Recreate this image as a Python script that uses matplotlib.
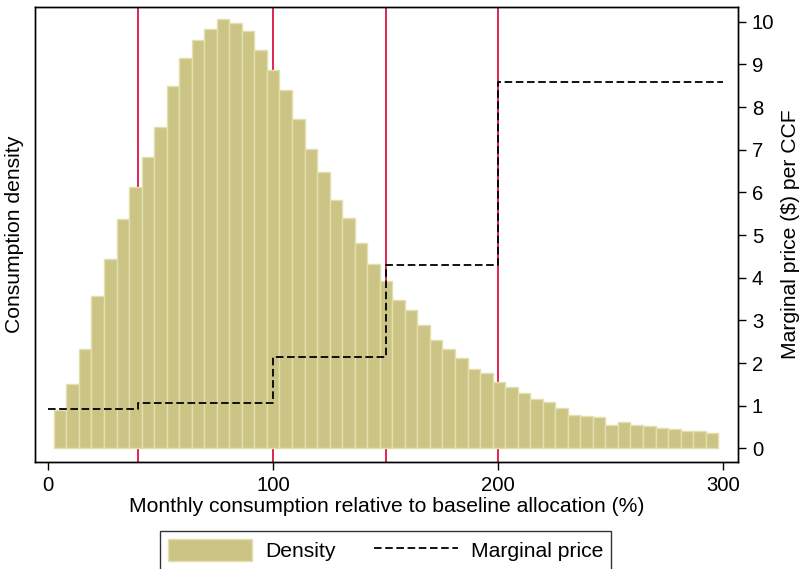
import matplotlib
matplotlib.use('Agg')
import matplotlib.pyplot as plt
import numpy as np

plt.rcParams['font.family'] = ['Liberation Sans', 'DejaVu Sans']
plt.rcParams['font.size'] = 15.2

# histogram of monthly consumption (% of baseline allocation)
bin_start = 2.5
bin_width = 5.57
density = [0.91, 1.52, 2.34, 3.57, 4.43, 5.37, 6.13, 6.84, 7.54, 8.49,
           9.14, 9.57, 9.82, 10.06, 9.96, 9.79, 9.34, 8.87, 8.40, 7.73,
           7.01, 6.48, 5.82, 5.39, 4.81, 4.32, 3.92, 3.48, 3.24, 2.89,
           2.55, 2.34, 2.11, 1.86, 1.76, 1.55, 1.44, 1.29, 1.17, 1.08,
           0.94, 0.78, 0.76, 0.73, 0.56, 0.62, 0.56, 0.52, 0.49, 0.46,
           0.41, 0.41, 0.37]

# tier thresholds and marginal price schedule
tier_edges = [0, 40, 100, 150, 200, 300]
tier_price = [0.92, 1.07, 2.15, 4.30, 8.59]

bar_color = '#cbc484'
red = '#dc1442'

fig = plt.figure(figsize=(8.04, 5.69), dpi=100)
ax = fig.add_axes([0.0435, 0.1886, 0.8744, 0.7996])

lefts = bin_start + bin_width * np.arange(len(density))
ax.bar(lefts, density, width=bin_width, align='edge', color=bar_color,
       edgecolor='#e4dfae', linewidth=1.0, zorder=2, label='Density')

for t in tier_edges[1:-1]:
    ax.axvline(t, color=red, lw=1.3, zorder=1)

ax.set_xlim(-5.9, 306.5)
ax.set_ylim(-0.31, 10.35)
ax.set_xticks([0, 100, 200, 300])
ax.set_yticks([])
ax.tick_params(axis='x', length=6, width=1, pad=4, labelsize=14.6)
ax.set_xlabel('Monthly consumption relative to baseline allocation (%)', labelpad=2)
ax.set_ylabel('Consumption density', labelpad=8)

ax2 = ax.twinx()
px = []
py = []
for i, p in enumerate(tier_price):
    px += [tier_edges[i], tier_edges[i + 1]]
    py += [p, p]
line, = ax2.plot(px, py, color='black', lw=1.3, dashes=(4.2, 2.0),
                 label='Marginal price')
ax2.set_ylim(-0.31, 10.35)
ax2.set_yticks(range(0, 11))
ax2.tick_params(axis='y', length=6, width=1, pad=4, labelsize=14.6)
ax2.set_ylabel('Marginal price ($) per CCF', labelpad=5)

for a in (ax, ax2):
    for s in a.spines.values():
        s.set_linewidth(1.0)

handles = [ax.patches[0], line]
fig.legend(handles, ['Density', 'Marginal price'], loc='upper center',
           bbox_to_anchor=(385.5 / 804, 1 - 531 / 569), ncol=2,
           frameon=True, fancybox=False, edgecolor='black',
           handlelength=4.0, handleheight=1.2, handletextpad=0.6,
           columnspacing=1.8, borderpad=0.4, borderaxespad=0)
fig.legends[0].get_frame().set_linewidth(1.0)

fig.savefig('out.png', dpi=100)
